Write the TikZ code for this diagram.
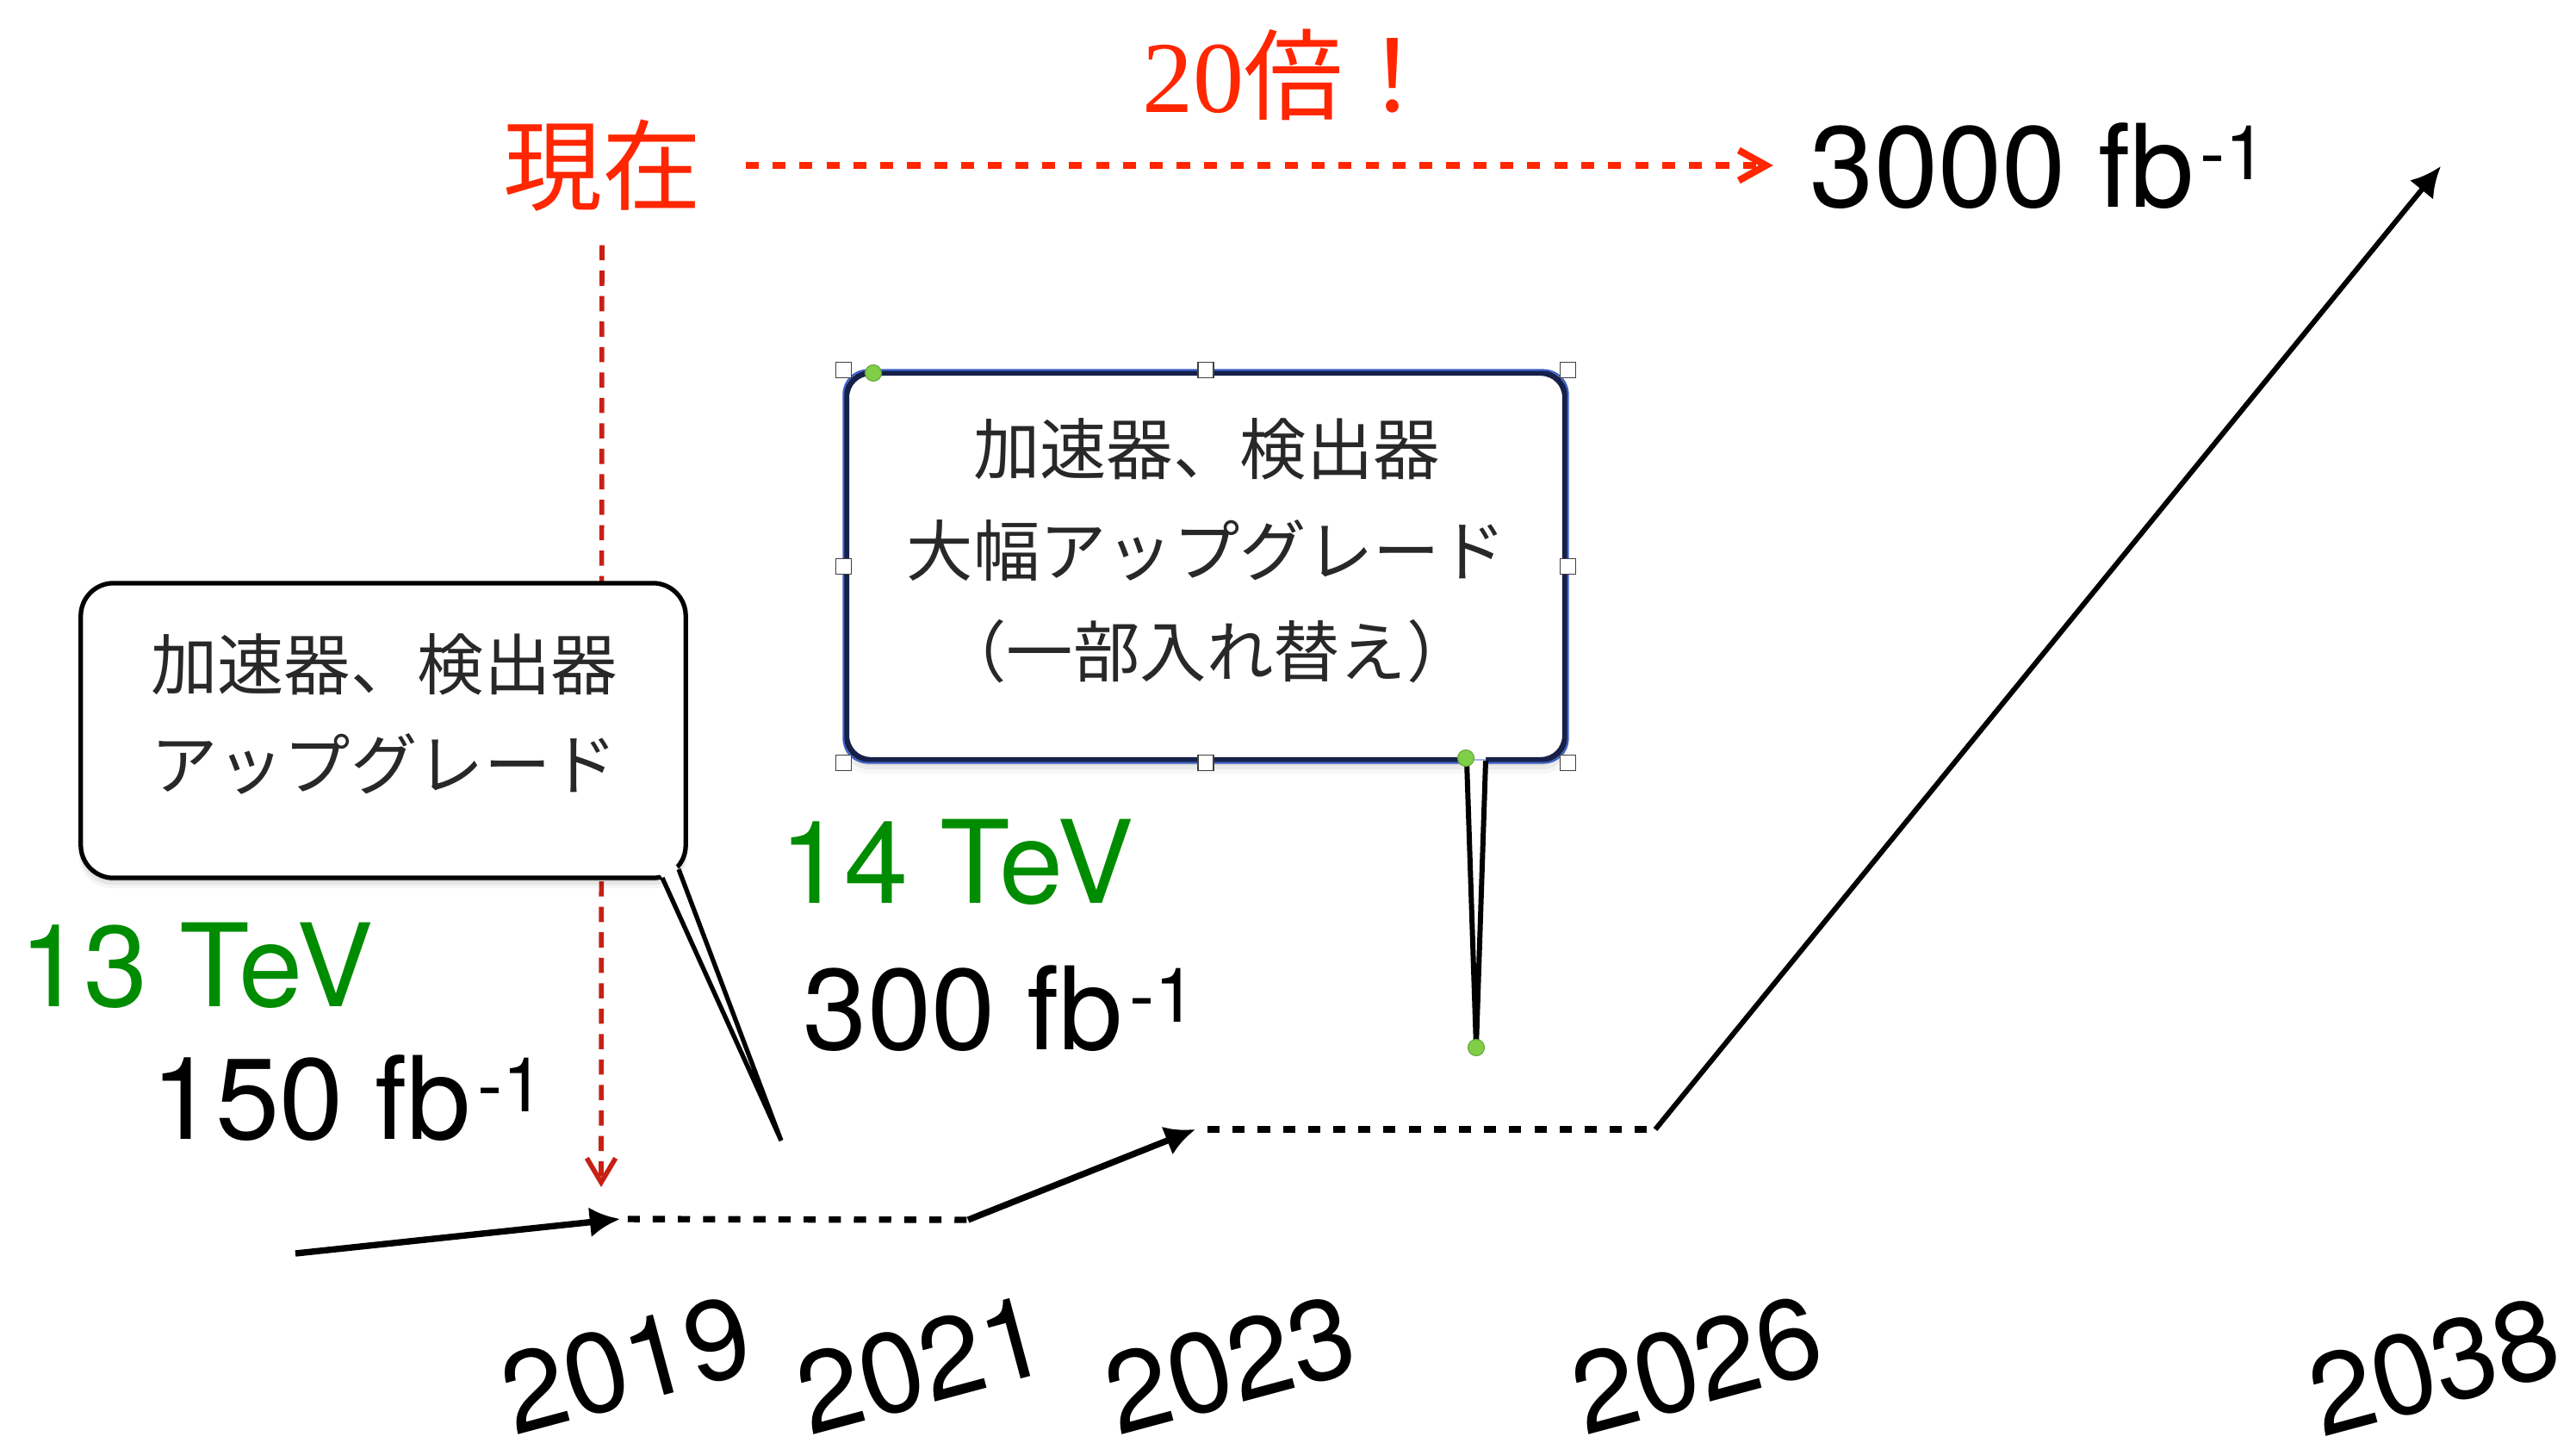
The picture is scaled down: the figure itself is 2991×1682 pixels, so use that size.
\documentclass[tikz,border=0pt]{standalone}
\usepackage{fontspec}
\setmainfont{TeX Gyre Heros}
\newfontfamily\jp{Noto Sans CJK JP}
\newfontfamily\serifnum{Liberation Serif}
\usetikzlibrary{arrows.meta}
\definecolor{lhcgreen}{RGB}{0,140,0}
\definecolor{nowred}{RGB}{255,38,0}
\definecolor{darkred}{RGB}{200,32,20}
\definecolor{navy}{RGB}{22,32,72}
\definecolor{selblue}{RGB}{60,95,200}
\definecolor{handlegreen}{RGB}{126,206,72}
\definecolor{boxtext}{RGB}{40,40,40}
\newcommand{\invfb}{\kern2pt\raisebox{9pt}{\fontsize{25pt}{26pt}\selectfont -1}}
\begin{document}
\begin{tikzpicture}[x=0.01cm,y=-0.01cm,
  lum/.style={font=\fontsize{38pt}{42pt}\selectfont, anchor=base west, inner sep=0pt},
  energy/.style={lum, text=lhcgreen},
  year/.style={font=\fontsize{37.5pt}{42pt}\selectfont, rotate=15, inner sep=0pt},
  boxtxt/.style={font=\jp\fontsize{22pt}{26pt}\selectfont, text=boxtext, inner sep=0pt},
  runline/.style={line width=2.1pt, -{Latex[length=10pt,width=10pt]}},
  idle/.style={line width=2.1pt, dash pattern=on 4pt off 4.3pt},
  handle/.style={draw=black!75, line width=0.5pt, fill=white, minimum size=0.18cm, inner sep=0pt, shape=rectangle},
  gdot/.style={circle, fill=handlegreen, draw=handlegreen!80!black, line width=0.3pt, minimum size=0.19cm, inner sep=0pt},
]
\useasboundingbox (0,0) rectangle (2991,1682);
\fill[white] (0,0) rectangle (2991,1682);

% ---- top labels
\node[font=\jp\fontsize{32.7pt}{36pt}\selectfont, text=nowred, inner sep=0pt] (now) at (699,192) {現在};
\node[anchor=base west, inner sep=0pt, text=nowred] (times) at (1326,130)
  {{\serifnum\fontsize{33.6pt}{36pt}\selectfont 20}{\jp\fontsize{32.7pt}{36pt}\selectfont 倍！}};
\node[lum] (L3000) at (2101,240) {3000 fb\invfb};

% ---- red arrows
\coordinate (nowbot) at (698,1378);
\draw[darkred, line width=1.6pt, dash pattern=on 5pt off 3.4pt,
      -{Straight Barb[length=8pt,width=9.5pt]}, shorten <=11pt] (now.south) -- (nowbot);
\draw[nowred, line width=2.3pt, dash pattern=on 4.3pt off 4.6pt,
      -{Straight Barb[length=9pt,width=10pt]}, shorten <=14.5pt, shorten >=12pt]
      (now.east) -- (now.east -| L3000.west);

% ---- timeline
\coordinate (t0) at (343,1455);
\coordinate (t1) at (720,1415);
\coordinate (t2) at (1124,1416);
\coordinate (t3) at (1388,1311);
\coordinate (t4) at (1922,1311);
\coordinate (t5) at (2834,193);
\draw[runline] (t0) -- (t1);
\draw[idle, shorten <=2.5pt] (t1) -- (t2);
\draw[runline] (t2) -- (t3);
\draw[idle, shorten <=4pt] (t3) -- (t4);
\draw[runline, line width=1.7pt] (t4) -- (t5);

% ---- left callout
\foreach \d/\o in {12/0.04, 8/0.06, 4/0.08}
  \fill[black, opacity=\o, rounded corners=11pt] ({94-\d*0.2},{677+\d}) rectangle ({796+\d*0.2},{1019+\d});
\node[draw=black, line width=1.5pt, fill=white, rounded corners=10.8pt,
      minimum width=7.02cm, minimum height=3.42cm, inner sep=0pt] (lbox) at (445,848) {};
\coordinate (ltip) at (907,1324);
\fill[white] (769,1019) -- (ltip) -- (788,1009) -- (780,998) -- (764,1012) -- cycle;
\draw[line width=1.5pt] (769,1019) -- (ltip) -- (788,1009);
\node[boxtxt] (l1) at (446,771) {加速器、検出器};
\node[boxtxt] (l2) at (446,887) {アップグレード};

% ---- big callout
\foreach \d/\o in {16/0.03, 11/0.05, 6/0.08}
  \fill[black, opacity=\o, rounded corners=8pt] ({983-\d*0.25},{433+\d}) rectangle ({1817+\d*0.25},{882+\d});
\node[draw=navy, line width=1.9pt, fill=white, rounded corners=8pt,
      minimum width=8.34cm, minimum height=4.49cm, inner sep=0pt] (bbox) at (1400,657.5) {};
\draw[selblue, line width=0.6pt, rounded corners=8pt] (bbox.south west) rectangle (bbox.north east);
\coordinate (btip) at (1714,1216);
\fill[white] (1703,876) -- (1703,884) -- (btip) -- (1725,884) -- (1725,876) -- cycle;
\draw[line width=1.7pt] (1703,883) -- (btip) -- (1725,883);
\draw[selblue!45, line width=0.6pt] (1703,882) -- (1725,882);

\node[boxtxt] (b1) at (1401,521) {加速器、検出器};
\node[boxtxt] (b2) at (1401,639) {大幅アップグレード};
\node[boxtxt] (b3) at (1401,756) {（一部入れ替え）};

% selection handles
\node[handle] (hnw) at (bbox.north west) {};
\node[handle] (hn) at (bbox.north) {};
\node[handle] (hne) at (bbox.north east) {};
\node[handle] (hw) at (bbox.west) {};
\node[handle] (he) at (bbox.east) {};
\node[handle] (hsw) at (bbox.south west) {};
\node[handle] (hs) at (bbox.south) {};
\node[handle] (hse) at (bbox.south east) {};
\node[gdot] (g1) at (1014,433) {};
\node[gdot] (g2) at (1702,880) {};
\node[gdot] (g3) at (btip) {};

% ---- energy / luminosity labels
\node[energy] (L13) at (22,1168) {13 TeV};
\node[lum] (L150) at (175,1322) {150 fb\invfb};
\node[energy] (L14) at (905,1048) {14 TeV};
\node[lum] (L300) at (932,1218) {300 fb\invfb};

% ---- years
\node[year] (y2019) at (727,1584) {2019};
\node[year] (y2021) at (1070,1584) {2021};
\node[year] (y2023) at (1428,1584) {2023};
\node[year] (y2026) at (1970,1584) {2026};
\node[year] (y2038) at (2826,1586) {2038};
\end{tikzpicture}
\end{document}
